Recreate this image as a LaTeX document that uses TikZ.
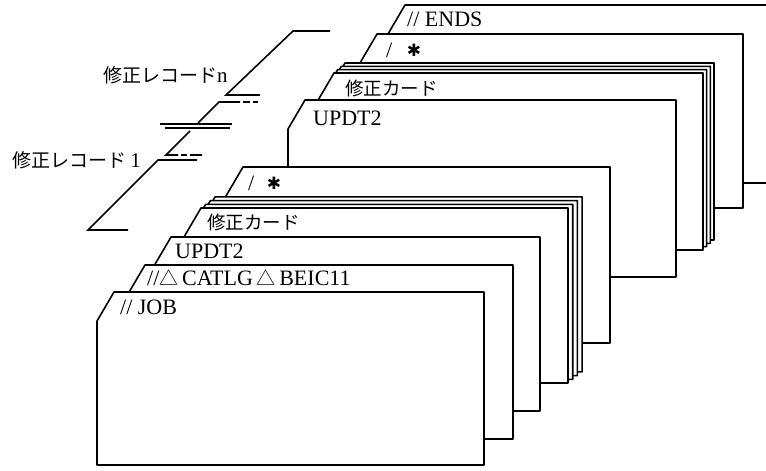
\documentclass[tikz,border=0pt]{standalone}
\usepackage{fontspec}
\setmainfont{Liberation Serif}
\newfontfamily\jpfont{Noto Sans CJK JP}
\newfontfamily\symfont{DejaVu Sans}
\tikzset{
  cardline/.style={draw=black, fill=white, line width=1.6pt, line join=round},
  rec/.style={draw=black, line width=1.6pt},
  lbl/.style={inner sep=0pt, anchor=base west, font=\fontsize{22}{25}\selectfont},
  jlbl/.style={inner sep=0pt, anchor=west, font=\jpfont\fontsize{18.5}{20}\selectfont},
  rlbl/.style={inner sep=0pt, anchor=west, font=\jpfont\fontsize{19}{21}\selectfont},
  star/.style={inner sep=0pt, font=\symfont\fontsize{17}{18}\selectfont},
}
\newcommand\cardshape[4]{\path[cardline] ({#1},{#2}) -- ({#3},{#2}) -- ({#3},{#4}) -- ({#1-17},{#4}) -- ({#1-17},{#2+29}) -- cycle;}
\begin{document}
\begin{tikzpicture}[x=1pt,y=-1pt]
\useasboundingbox (0,0) rectangle (766,471);
\clip (0,0) rectangle (766,471);

% record deck on the left
\draw[rec] (330,31) -- (293,31) -- (226,95) -- (260,95);
\draw[rec] (198,123) -- (219,102) -- (240,102);
\draw[rec] (243,102) -- (250,102) (253,102) -- (258,102);
\draw[rec] (160,124) -- (232,124);
\draw[rec] (165,128) -- (230,128);
\draw[rec] (190,131) -- (166,155) -- (178,155);
\draw[rec] (181,155) -- (187,155) (190,155) -- (202,155);
\draw[rec] (197,160) -- (158,160) -- (88,230) -- (128,230);
\node[rlbl] (recn) at (103,75) {修正レコード{\rmfamily\fontsize{21}{24}\selectfont n}};
\node[rlbl] (rec1) at (12,160) {修正レコード {\rmfamily\fontsize{21}{24}\selectfont 1}};

% upper group
\cardshape{405}{5}{820}{183}
\cardshape{377}{34}{743}{208}
\foreach \k in {3,2,1,0}{\cardshape{334+3.67*\k}{73-3.33*\k}{703+3.67*\k}{250-3.33*\k}}
\cardshape{305}{100}{676}{277}

% lower group
\cardshape{243}{167}{610}{343}
\foreach \k in {3,2,1,0}{\cardshape{201+4.7*\k}{208-3.7*\k}{568+4.7*\k}{383-3.7*\k}}
\cardshape{171}{237}{540}{411}
\cardshape{145}{265}{513}{439}
\cardshape{114}{292}{484}{465}

% labels
\node[lbl] (ends) at (407,27) {// ENDS};
\node[lbl] (sl1) at (386,57) {/};
\node[star] (st1) at (414,50) {✱};
\node[jlbl] (mod1) at (345,88) {修正カード};
\node[lbl] (up1) at (313,125.5) {UPDT2};
\node[lbl] (sl2) at (248,190) {/};
\node[star] (st2) at (274,183) {✱};
\node[jlbl] (mod2) at (207,222) {修正カード};
\node[lbl] (up2) at (175,258.5) {UPDT2};
\node[lbl] (cat) at (147,285.5) {//{\jpfont\fontsize{19}{21}\selectfont △}\,CATLG\,{\jpfont\fontsize{19}{21}\selectfont △}\,BEIC11};
\node[lbl] (job) at (120,314.5) {// JOB};
\end{tikzpicture}
\end{document}
